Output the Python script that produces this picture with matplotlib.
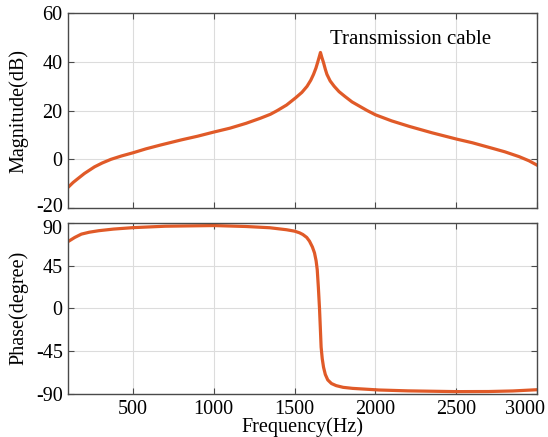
import matplotlib
matplotlib.use("Agg")
import matplotlib.pyplot as plt
import matplotlib.transforms as mtransforms

# Bode plot values (Hz, dB, degrees)
mag_freq = [102, 130, 160, 200, 262, 310, 364, 430, 501, 580, 672, 800, 900,
            1000, 1100, 1200, 1289, 1350, 1392, 1450, 1505, 1545, 1577, 1600,
            1617, 1632, 1642, 1652, 1660, 1668, 1679, 1690, 1700, 1720, 1745,
            1775, 1812, 1855, 1905, 1950, 2000, 2100, 2211, 2350, 2503, 2600,
            2725, 2800, 2889, 2950, 3000]
mag_db = [-11.3, -9.5, -7.9, -5.8, -3.1, -1.5, 0.0, 1.4, 2.7, 4.3, 5.9, 8.0,
          9.5, 11.2, 12.8, 14.8, 16.9, 18.5, 20.0, 22.3, 25.2, 27.5, 30.0,
          32.5, 34.9, 37.5, 39.7, 42.0, 43.9, 42.0, 39.7, 37.0, 34.9, 32.2,
          30.0, 27.8, 25.8, 23.6, 21.7, 20.0, 18.3, 15.8, 13.5, 10.9, 8.3,
          6.8, 4.5, 3.1, 1.1, -0.6, -2.4]

phase_freq = [102, 140, 181, 230, 289, 380, 500, 700, 1000, 1200, 1346, 1450,
              1500, 1530, 1551, 1575, 1592, 1610, 1623, 1633, 1640, 1647, 1654,
              1659, 1664, 1671, 1679, 1690, 1705, 1728, 1757, 1800, 1859, 2023,
              2200, 2500, 2700, 2850, 3000]
phase_deg = [70.5, 74.5, 78.0, 80.0, 81.6, 83.3, 84.8, 86.3, 87.0, 86.0, 84.7,
             82.6, 81.1, 79.4, 77.6, 74.5, 70.6, 64.5, 58.3, 50.0, 40.6, 22.0,
             0.0, -20.0, -40.7, -53.0, -61.9, -69.5, -75.2, -79.0, -81.2, -83.0,
             -84.1, -85.8, -86.7, -87.5, -87.4, -86.8, -85.5]

freq_ticks = [500, 1000, 1500, 2000, 2500, 3000]
mag_ticks = [-20, 0, 20, 40, 60]
phase_ticks = [-90, -45, 0, 45, 90]

line_color = "#E05A28"
spine_color = "#4a4a4a"

plt.rcParams["font.family"] = ["Liberation Serif", "DejaVu Serif"]
plt.rcParams["font.size"] = 14.5
plt.rcParams["axes.unicode_minus"] = False

fig = plt.figure(figsize=(5.48, 4.37), dpi=100)
ax1 = fig.add_axes([0.1246, 0.524, 0.8555, 0.4456])
ax2 = fig.add_axes([0.1246, 0.0984, 0.8555, 0.392])


def style(ax):
    ax.grid(True, color="#dcdcdc", linewidth=0.8)
    ax.set_axisbelow(True)
    for s in ax.spines.values():
        s.set_color(spine_color)
        s.set_linewidth(1.0)
    ax.tick_params(direction="in", length=4, width=0.8, color=spine_color,
                   top=True, right=True, labelsize=14.5, pad=4)
    ax.set_xlim(100, 3000)
    ax.set_xticks(freq_ticks)


def shift(label, dx, dy):
    label.set_transform(label.get_transform() +
                        mtransforms.ScaledTranslation(dx / 100, dy / 100,
                                                      fig.dpi_scale_trans))


ax1.plot(mag_freq, mag_db, color=line_color, linewidth=2.3)
style(ax1)
ax1.set_ylim(-20, 60)
ax1.set_yticks(mag_ticks)
ax1.set_xticklabels([])
ax1.set_ylabel("Magnitude(dB)")
ax1.text(0.731, 0.863, "Transmission cable", transform=ax1.transAxes,
         ha="center", va="center", fontsize=15)

ax2.plot(phase_freq, phase_deg, color=line_color, linewidth=2.3)
style(ax2)
ax2.set_ylim(-90, 90)
ax2.set_yticks(phase_ticks)
ax2.set_ylabel("Phase(degree)")
ax2.set_xlabel("Frequency(Hz)", labelpad=-1)

# nudge edge labels the way the reference places them
shift(ax2.get_xticklabels()[-1], -12, 0)
shift(ax1.get_yticklabels()[0], 0, 3)
shift(ax2.get_yticklabels()[-1], 0, -4)

ax1.yaxis.set_label_coords(-0.085, 0.5)
ax2.yaxis.set_label_coords(-0.085, 0.5)

fig.savefig("out.png", dpi=100)
